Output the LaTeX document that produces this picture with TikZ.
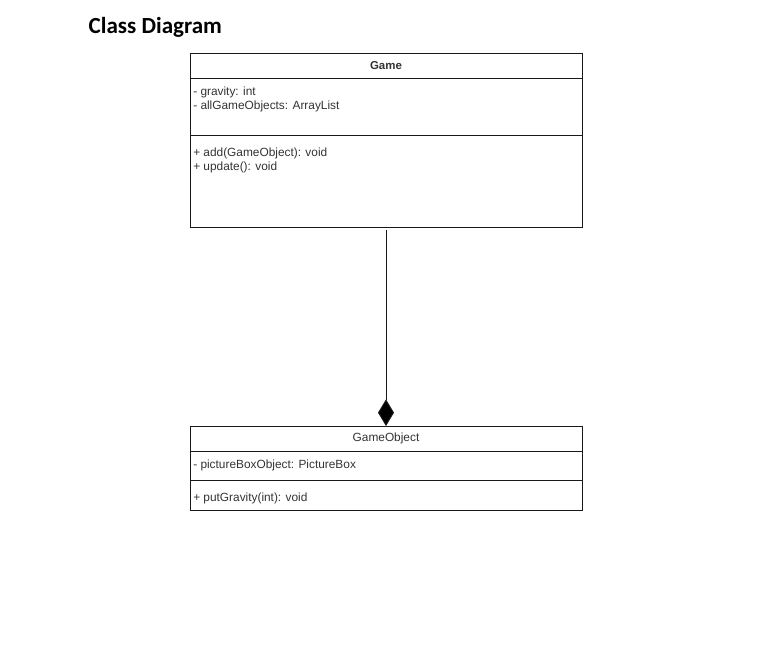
\documentclass[tikz,border=0pt]{standalone}
\usepackage{fontspec}
\setmainfont{Liberation Sans}
\newfontfamily\titlefont{Carlito}
\usetikzlibrary{positioning,arrows.meta}

\begin{document}
\begin{tikzpicture}[x=0.75pt,y=-0.75pt,font=\fontsize{8.9}{10.5}\selectfont,comp/.style={draw=black!90, line width=0.75pt, minimum width=294pt, inner sep=0pt, outer sep=0pt},head/.style={comp, minimum height=18.75pt},member/.style={anchor=north west, align=left, inner sep=0pt, text=black!80},compose/.style={draw=black!90, line width=0.75pt, -{Diamond[width=12pt,length=20pt,fill=black]}, shorten <=2.25pt}]
\useasboundingbox (0,0) rectangle (780,662);
\node[font=\titlefont\bfseries\fontsize{17.3}{20}\selectfont, anchor=west] (title) at (84,27) {Class Diagram};
% Game
\node[head, font=\bfseries\fontsize{8.6}{10.5}\selectfont, text=black!80] (gamehead) at (386,65.5) {Game};
\node[comp, minimum height=42.75pt, below=0pt of gamehead] (gameattr) {};
\node[comp, minimum height=69pt, below=0pt of gameattr] (gameops) {};
\node[member] (gameattrtext) at ([xshift=2.25pt,yshift=-6.5pt]gameattr.north west) {- gravity: int\\- allGameObjects: ArrayList};
\node[member] (gameopstext) at ([xshift=2.25pt,yshift=-9.5pt]gameops.north west) {+ add(GameObject): void\\+ update(): void};
% GameObject
\node[head, text=black!80] (objhead) at (386,438.5) {GameObject};
\node[comp, minimum height=21.75pt, below=0pt of objhead] (objattr) {};
\node[comp, minimum height=22.5pt, below=0pt of objattr] (objops) {};
\node[member] (objattrtext) at ([xshift=2.25pt,yshift=-6.5pt]objattr.north west) {- pictureBoxObject: PictureBox};
\node[member] (objopstext) at ([xshift=2.25pt,yshift=-9.5pt]objops.north west) {+ putGravity(int): void};
% composition
\draw[compose] (gameops.south) -- (objhead.north);
\end{tikzpicture}
\end{document}
